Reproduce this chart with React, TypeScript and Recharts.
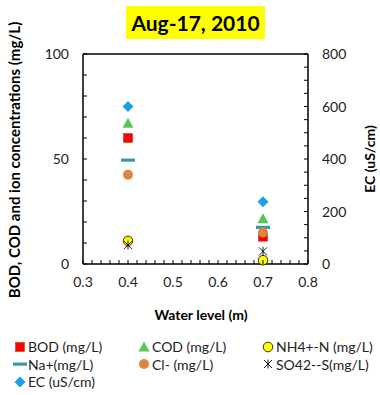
import React from 'react';
import { ComposedChart, Scatter, XAxis, YAxis, ReferenceLine } from 'recharts';

// water level (m) for each sampling point
const waterLevels = [0.4, 0.7];

// concentrations, mg/L
const bod = [60, 13];
const cod = [67, 21.5];
const nh4 = [11, 1.8];
const na = [49.5, 17.5];
const cl = [42.5, 15];
const so4 = [9, 6];
// conductivity, uS/cm (right axis)
const ec = [600, 237];

const xTicks = [0.3, 0.32, 0.34, 0.36, 0.38, 0.4, 0.42, 0.44, 0.46, 0.48, 0.5, 0.52, 0.54, 0.56, 0.58, 0.6, 0.62, 0.64, 0.66, 0.68, 0.7, 0.72, 0.74, 0.76, 0.78, 0.8];
const leftTicks = [0, 10, 20, 30, 40, 50, 60, 70, 80, 90, 100];
const rightTicks = [0, 50, 100, 150, 200, 250, 300, 350, 400, 450, 500, 550, 600, 650, 700, 750, 800];

const FONT = 'Lato, "DejaVu Sans", sans-serif';

const toPoints = (vals: number[]) => waterLevels.map((x, i) => ({ x, y: vals[i] }));

// marker shapes
const Square = ({ cx, cy }: any) => (
  <rect x={cx - 4.5} y={cy - 4.5} width={9} height={9} fill="#ff0000" stroke="#c0392b" strokeWidth={0.6} />
);
const Triangle = ({ cx, cy }: any) => (
  <polygon points={`${cx},${cy - 5.5} ${cx + 5.5},${cy + 4.5} ${cx - 5.5},${cy + 4.5}`} fill="#56c856" />
);
const YellowDot = ({ cx, cy }: any) => (
  <circle cx={cx} cy={cy} r={4.8} fill="#ffff00" stroke="#000" strokeWidth={0.8} />
);
const Dash = ({ cx, cy }: any) => (
  <rect x={cx - 7} y={cy - 1.5} width={14} height={3.2} fill="#3d96ae" />
);
const OrangeDot = ({ cx, cy }: any) => (
  <circle cx={cx} cy={cy} r={5} fill="#e0853f" />
);
const Star = ({ cx, cy }: any) => (
  <g stroke="#000" strokeWidth={0.9}>
    <line x1={cx - 4} y1={cy - 4} x2={cx + 4} y2={cy + 4} />
    <line x1={cx - 4} y1={cy + 4} x2={cx + 4} y2={cy - 4} />
    <line x1={cx} y1={cy - 4.5} x2={cx} y2={cy + 4.5} />
  </g>
);
const Diamond = ({ cx, cy }: any) => (
  <polygon points={`${cx},${cy - 5.5} ${cx + 5.5},${cy} ${cx},${cy + 5.5} ${cx - 5.5},${cy}`} fill="#1e9fe8" />
);

// ticks are drawn inside the plot box, labels only on the major ones
const XTick = ({ x, y, payload }: any) => {
  const v = payload.value;
  const major = Math.round(v * 100) % 10 === 0;
  return (
    <g>
      <line x1={x} y1={y - 4} x2={x} y2={y} stroke="#000" />
      {major && (
        <text x={x} y={y + 23} textAnchor="middle" fontSize={14} fill="#222" fontFamily={FONT}>
          {v.toFixed(1)}
        </text>
      )}
    </g>
  );
};
const LeftTick = ({ x, y, payload }: any) => (
  <g>
    <line x1={x} y1={y} x2={x + 4} y2={y} stroke="#000" />
    {payload.value % 50 === 0 && (
      <text x={x - 14} y={y + 5} textAnchor="end" fontSize={14} fill="#222" fontFamily={FONT}>
        {payload.value}
      </text>
    )}
  </g>
);
const RightTick = ({ x, y, payload }: any) => (
  <g>
    <line x1={x - 4} y1={y} x2={x} y2={y} stroke="#000" />
    {payload.value % 200 === 0 && (
      <text x={x + 14} y={y + 5} textAnchor="start" fontSize={14} fill="#222" fontFamily={FONT}>
        {payload.value}
      </text>
    )}
  </g>
);

const legendItems = [
  { name: 'BOD (mg/L)', Icon: Square },
  { name: 'COD (mg/L)', Icon: Triangle },
  { name: 'NH4+-N (mg/L)', Icon: YellowDot },
  { name: 'Na+(mg/L)', Icon: Dash },
  { name: 'Cl- (mg/L)', Icon: OrangeDot },
  { name: 'SO42--S(mg/L)', Icon: Star },
  { name: 'EC (uS/cm)', Icon: Diamond },
];
const legendCols = [13, 137, 261];

export default function App() {
  return (
    <div style={{ position: 'absolute', left: 0, top: 0, width: 380, height: 395, background: '#fff', fontFamily: FONT }}>
      <div
        style={{
          position: 'absolute', left: 126, top: 6, width: 139, height: 33,
          background: '#ffff00', fontWeight: 700, fontSize: 21, lineHeight: '33px',
          textAlign: 'center', color: '#000',
        }}
      >
        Aug-17, 2010
      </div>
      <ComposedChart width={380} height={395} margin={{ top: 54, right: 0, bottom: 0, left: 0 }}>
        <XAxis
          dataKey="x"
          type="number"
          domain={[0.3, 0.8]}
          ticks={xTicks}
          interval={0}
          tick={<XTick />}
          tickLine={false}
          tickSize={0}
          tickMargin={0}
          height={131}
          axisLine={{ stroke: '#000', strokeWidth: 1.5 }}
          allowDataOverflow
        />
        <YAxis
          yAxisId="left"
          dataKey="y"
          type="number"
          domain={[0, 100]}
          ticks={leftTicks}
          interval={0}
          tick={<LeftTick />}
          tickLine={false}
          tickSize={0}
          tickMargin={0}
          width={83}
          axisLine={{ stroke: '#000', strokeWidth: 1.5 }}
          label={{
            value: 'BOD, COD and ion concentrations (mg/L)', angle: -90, position: 'center',
            dx: -27, dy: 1, style: { fontWeight: 700, fontSize: 15, fill: '#000', fontFamily: FONT },
          }}
        />
        <YAxis
          yAxisId="right"
          dataKey="y"
          orientation="right"
          type="number"
          domain={[0, 800]}
          ticks={rightTicks}
          interval={0}
          tick={<RightTick />}
          tickLine={false}
          tickSize={0}
          tickMargin={0}
          width={72}
          axisLine={{ stroke: '#000', strokeWidth: 1.5 }}
          label={{
            value: 'EC (uS/cm)', angle: -90, position: 'center',
            dx: 26, style: { fontWeight: 700, fontSize: 14, fill: '#000', fontFamily: FONT },
          }}
        />
        <ReferenceLine yAxisId="left" y={100} stroke="#000" strokeWidth={1.5} />
        <Scatter yAxisId="left" name="BOD (mg/L)" data={toPoints(bod)} shape={<Square />} isAnimationActive={false} />
        <Scatter yAxisId="left" name="COD (mg/L)" data={toPoints(cod)} shape={<Triangle />} isAnimationActive={false} />
        <Scatter yAxisId="left" name="NH4+-N (mg/L)" data={toPoints(nh4)} shape={<YellowDot />} isAnimationActive={false} />
        <Scatter yAxisId="left" name="Na+(mg/L)" data={toPoints(na)} shape={<Dash />} isAnimationActive={false} />
        <Scatter yAxisId="left" name="Cl- (mg/L)" data={toPoints(cl)} shape={<OrangeDot />} isAnimationActive={false} />
        <Scatter yAxisId="left" name="SO42--S(mg/L)" data={toPoints(so4)} shape={<Star />} isAnimationActive={false} />
        <Scatter yAxisId="right" name="EC (uS/cm)" data={toPoints(ec)} shape={<Diamond />} isAnimationActive={false} />
      </ComposedChart>
      <div style={{ position: 'absolute', left: 0, top: 306, width: 402, textAlign: 'center', fontWeight: 700, fontSize: 14, color: '#000' }}>
        Water level (m)
      </div>
      {legendItems.map((item, i) => {
        const col = i % 3;
        const row = Math.floor(i / 3);
        const Icon = item.Icon;
        return (
          <div
            key={item.name}
            style={{
              position: 'absolute', left: legendCols[col], top: 338 + row * 17.5,
              display: 'flex', alignItems: 'center', fontSize: 14, color: '#222', whiteSpace: 'nowrap',
            }}
          >
            <svg width={14} height={14} style={{ marginRight: 1 }}>
              <Icon cx={7} cy={7} />
            </svg>
            {item.name}
          </div>
        );
      })}
    </div>
  );
}
